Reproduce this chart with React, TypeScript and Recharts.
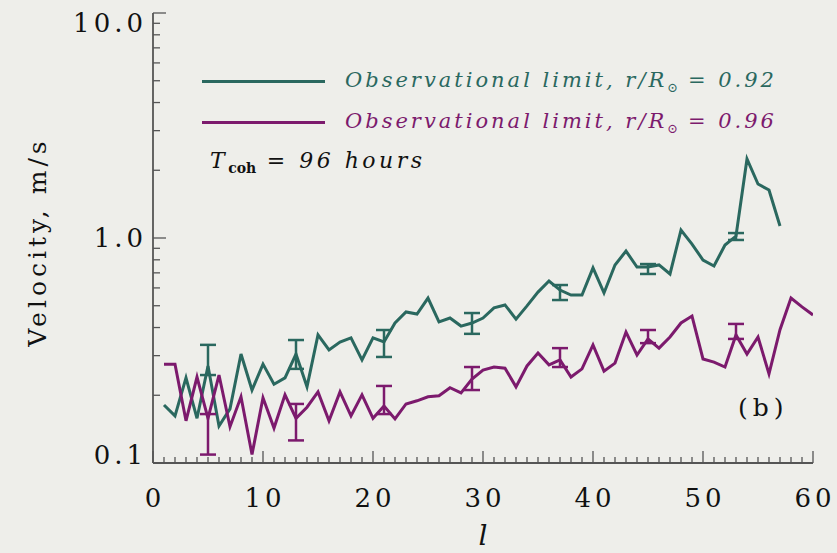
import { ComposedChart, ErrorBar, Line, Scatter, XAxis, YAxis } from 'recharts'

// harmonic degree l
const ells = [
  1, 2, 3, 4, 5, 6, 7, 8, 9, 10, 11, 12, 13, 14, 15, 16, 17, 18, 19, 20,
  21, 22, 23, 24, 25, 26, 27, 28, 29, 30, 31, 32, 33, 34, 35, 36, 37, 38, 39, 40,
  41, 42, 43, 44, 45, 46, 47, 48, 49, 50, 51, 52, 53, 54, 55, 56, 57, 58, 59, 60,
]

// observational limit, r/R = 0.92 (ends at l = 57)
const tealVel = [
  0.181, 0.162, 0.239, 0.158, 0.27, 0.146, 0.174, 0.305, 0.211, 0.275,
  0.224, 0.239, 0.305, 0.218, 0.371, 0.318, 0.345, 0.36, 0.287, 0.36,
  0.345, 0.419, 0.469, 0.459, 0.541, 0.424, 0.441, 0.406, 0.419, 0.441,
  0.489, 0.504, 0.436, 0.499, 0.575, 0.644, 0.587, 0.558, 0.558, 0.736,
  0.57, 0.759, 0.875, 0.743, 0.743, 0.759, 0.692, 1.085, 0.94, 0.798,
  0.751, 0.931, 1.02, 2.244, 1.738, 1.634, 1.13,
]

// observational limit, r/R = 0.96
const purpleVel = [
  0.275, 0.275, 0.154, 0.241, 0.158, 0.246, 0.145, 0.197, 0.109, 0.195,
  0.143, 0.201, 0.158, 0.177, 0.207, 0.154, 0.207, 0.162, 0.201, 0.158,
  0.179, 0.157, 0.183, 0.189, 0.197, 0.199, 0.216, 0.205, 0.236, 0.259,
  0.267, 0.264, 0.218, 0.27, 0.308, 0.273, 0.287, 0.241, 0.262, 0.335,
  0.256, 0.278, 0.382, 0.302, 0.356, 0.324, 0.363, 0.419, 0.45, 0.29,
  0.281, 0.267, 0.371, 0.305, 0.363, 0.249, 0.391, 0.541, 0.494, 0.455,
]

// error bars
const errL = [5, 13, 21, 29, 37, 45, 53]
const tealLo = [0.246, 0.262, 0.296, 0.375, 0.53, 0.692, 0.98]
const tealHi = [0.335, 0.352, 0.39, 0.464, 0.618, 0.766, 1.052]
const purpleLo = [0.109, 0.126, 0.165, 0.211, 0.267, 0.341, 0.356]
const purpleHi = [0.165, 0.183, 0.22, 0.267, 0.324, 0.39, 0.415]

const xTicks = Array.from({ length: 61 }, (_, i) => i)
const yTicks = [
  0.1, 0.2, 0.3, 0.4, 0.5, 0.6, 0.7, 0.8, 0.9,
  1, 2, 3, 4, 5, 6, 7, 8, 9, 10,
]
const yMajorLabels: Record<string, string> = { '0.1': '0.1', '1': '1.0', '10': '10.0' }

const TEAL = '#2a685f'
const PURPLE = '#7c1a6d'
const AXIS = '#555555'
const BG = '#eeeeea'
const SERIF = '"DejaVu Serif", serif'

const data = ells.map((l, i) => ({ l, teal: tealVel[i], purple: purpleVel[i] }))

const tealErr = errL.map((l, i) => {
  const v = tealVel[l - 1]
  return { l, v, err: [v - tealLo[i], tealHi[i] - v] }
})
const purpleErr = errL.map((l, i) => {
  const v = purpleVel[l - 1]
  return { l, v, err: [v - purpleLo[i], purpleHi[i] - v] }
})

const SP = 4
const labelStyle = { fontFamily: SERIF, fontSize: 26, fill: '#111', letterSpacing: SP }

function BottomTick(props: any) {
  const { x, y, payload } = props
  const v = payload.value
  const major = v % 10 === 0
  return (
    <g>
      <line x1={x} y1={y} x2={x} y2={y - (major ? 12 : 6)} stroke={AXIS} strokeWidth={1.3} />
      {major && (
        <text x={x + SP / 2} y={y + 35} textAnchor="middle" dominantBaseline="central" style={labelStyle}>
          {v}
        </text>
      )}
    </g>
  )
}

function TopTick(props: any) {
  const { x, y, payload } = props
  const major = payload.value % 10 === 0
  return <line x1={x} y1={y} x2={x} y2={y + (major ? 12 : 6)} stroke={AXIS} strokeWidth={1.3} />
}

function LeftTick(props: any) {
  const { x, y, payload } = props
  const v = payload.value
  const label = yMajorLabels[String(v)]
  const dy = v === 10 ? 10 : v === 0.1 ? -8 : 0
  return (
    <g>
      <line x1={x} y1={y} x2={x + (label ? 13 : 7)} y2={y} stroke={AXIS} strokeWidth={1.3} />
      {label && (
        <text x={x - 6} y={y + dy} textAnchor="end" dominantBaseline="central" style={labelStyle}>
          {label}
        </text>
      )}
    </g>
  )
}

function RightTick(props: any) {
  const { x, y, payload } = props
  const major = yMajorLabels[String(payload.value)] !== undefined
  return <line x1={x} y1={y} x2={x - (major ? 13 : 7)} y2={y} stroke={AXIS} strokeWidth={1.3} />
}

const italic = { fontFamily: SERIF, fontStyle: 'italic' as const, fontSize: 21, letterSpacing: 3 }

export default function App() {
  return (
    <div style={{ position: 'absolute', left: 0, top: 0, width: 837, height: 553, background: BG }}>
      <ComposedChart
        width={837}
        height={553}
        data={data}
        margin={{ top: 13, right: 24, bottom: 0, left: 0 }}
      >
        <XAxis
          dataKey="l"
          type="number"
          domain={[0, 60]}
          allowDataOverflow
          ticks={xTicks}
          interval={0}
          tickSize={0}
          tickMargin={0}
          tickLine={false}
          height={90}
          axisLine={{ stroke: AXIS, strokeWidth: 1.8 }}
          tick={<BottomTick />}
          label={{
            value: 'l',
            position: 'insideBottom',
            offset: 8,
            style: { fontFamily: SERIF, fontStyle: 'italic', fontSize: 28, fill: '#111' },
          }}
        />
        <XAxis
          xAxisId="top"
          orientation="top"
          type="number"
          domain={[0, 60]}
          allowDataOverflow
          ticks={xTicks}
          interval={0}
          tickSize={0}
          tickMargin={0}
          tickLine={false}
          height={0}
          axisLine={{ stroke: AXIS, strokeWidth: 1.8 }}
          tick={<TopTick />}
        />
        <YAxis
          type="number"
          scale="log"
          domain={[0.1, 10]}
          allowDataOverflow
          ticks={yTicks}
          interval={0}
          tickSize={0}
          tickMargin={0}
          tickLine={false}
          width={153}
          axisLine={{ stroke: AXIS, strokeWidth: 1.8 }}
          tick={<LeftTick />}
          label={{
            content: (p: any) => {
              const vb = p.viewBox
              const cx = vb.x + 37
              const cy = vb.y + vb.height / 2 + 4
              return (
                <text
                  x={cx}
                  y={cy}
                  textAnchor="middle"
                  dominantBaseline="central"
                  transform={`rotate(-90, ${cx}, ${cy})`}
                  style={{ ...labelStyle, fontSize: 25, letterSpacing: 4 }}
                >
                  Velocity, m/s
                </text>
              )
            },
          }}
        />
        <YAxis
          yAxisId="right"
          orientation="right"
          type="number"
          scale="log"
          domain={[0.1, 10]}
          allowDataOverflow
          ticks={yTicks}
          interval={0}
          tickSize={0}
          tickMargin={0}
          tickLine={false}
          width={0}
          axisLine={{ stroke: AXIS, strokeWidth: 1.8 }}
          tick={<RightTick />}
        />
        <Line
          dataKey="teal"
          name="Observational limit, r/R = 0.92"
          stroke={TEAL}
          strokeWidth={3}
          dot={false}
          isAnimationActive={false}
        />
        <Line
          dataKey="purple"
          name="Observational limit, r/R = 0.96"
          stroke={PURPLE}
          strokeWidth={3}
          dot={false}
          isAnimationActive={false}
        />
        <Scatter data={tealErr} dataKey="v" shape={() => <g />} isAnimationActive={false}>
          <ErrorBar dataKey="err" direction="y" width={8} stroke={TEAL} strokeWidth={2.5} />
        </Scatter>
        <Scatter data={purpleErr} dataKey="v" shape={() => <g />} isAnimationActive={false}>
          <ErrorBar dataKey="err" direction="y" width={8} stroke={PURPLE} strokeWidth={2.5} />
        </Scatter>
      </ComposedChart>

      {/* legend */}
      <div style={{ position: 'absolute', left: 202, top: 80, width: 123, height: 3, background: TEAL }} />
      <div style={{ position: 'absolute', left: 345, top: 66, lineHeight: '28px', color: TEAL, ...italic }}>
        Observational limit, r/R<sub style={{ fontSize: 13, fontStyle: 'normal', letterSpacing: 0 }}>⊙</sub> = 0.92
      </div>
      <div style={{ position: 'absolute', left: 202, top: 121, width: 123, height: 3, background: PURPLE }} />
      <div style={{ position: 'absolute', left: 345, top: 107, lineHeight: '28px', color: PURPLE, ...italic }}>
        Observational limit, r/R<sub style={{ fontSize: 13, fontStyle: 'normal', letterSpacing: 0 }}>⊙</sub> = 0.96
      </div>
      <div style={{ position: 'absolute', left: 210, top: 147, lineHeight: '28px', color: '#111', ...italic, fontSize: 22, letterSpacing: 3.5 }}>
        T<sub style={{ fontSize: 14, fontStyle: 'normal', fontWeight: 'bold', letterSpacing: 0 }}>coh</sub> = 96 hours
      </div>
      <div
        style={{
          position: 'absolute',
          left: 738,
          top: 394,
          lineHeight: '28px',
          fontFamily: SERIF,
          fontSize: 25,
          letterSpacing: 5,
          color: '#111',
        }}
      >
        (b)
      </div>
    </div>
  )
}
